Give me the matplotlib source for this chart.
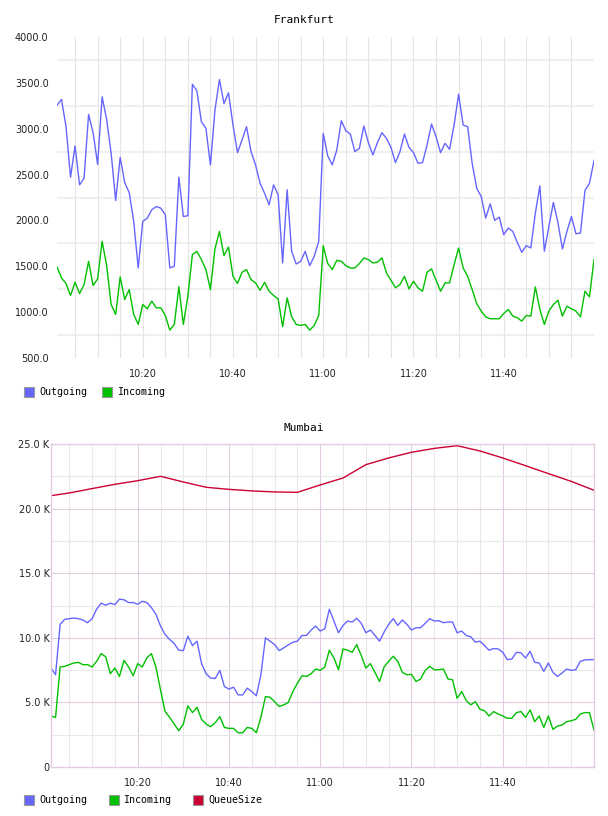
import numpy as np
import matplotlib
matplotlib.use("Agg")
from matplotlib import pyplot as plt
from matplotlib.patches import Rectangle
from matplotlib.ticker import FuncFormatter, MultipleLocator, FixedLocator

# minutes after 10:00, one sample per minute (10:01 .. 12:00)
minutes = list(range(1, 121))

fra_outgoing = [3257, 3319, 3022, 2471, 2812, 2388, 2460, 3156, 2957, 2612,
                3348, 3101, 2732, 2217, 2688, 2413, 2304, 1989, 1482, 1989,
                2025, 2116, 2152, 2134, 2062, 1482, 1500, 2471, 2043, 2051,
                3485, 3413, 3076, 3004, 2605, 3203, 3536, 3275, 3391, 3040,
                2739, 2877, 3022, 2750, 2605, 2406, 2297, 2170, 2388, 2279,
                1536, 2333, 1663, 1525, 1554, 1663, 1507, 1609, 1772, 2949,
                2703, 2605, 2768, 3087, 2978, 2942, 2750, 2786, 3029, 2848,
                2714, 2848, 2957, 2895, 2797, 2630, 2750, 2942, 2797, 2739,
                2623, 2630, 2822, 3051, 2913, 2739, 2841, 2775, 3040, 3377,
                3040, 3022, 2623, 2351, 2261, 2025, 2181, 2000, 2036, 1844,
                1917, 1880, 1761, 1652, 1725, 1700, 2080, 2377, 1663, 1935,
                2196, 1978, 1689, 1880, 2043, 1855, 1862, 2326, 2406, 2652]

fra_incoming = [1493, 1373, 1312, 1181, 1326, 1203, 1301, 1554, 1290, 1362,
                1772, 1507, 1083, 975, 1384, 1138, 1246, 975, 866, 1083,
                1036, 1120, 1047, 1047, 964, 804, 866, 1276, 866, 1174,
                1627, 1663, 1573, 1464, 1246, 1689, 1880, 1616, 1710, 1391,
                1312, 1435, 1464, 1355, 1319, 1239, 1326, 1228, 1181, 1145,
                841, 1156, 949, 866, 855, 866, 804, 855, 964, 1725,
                1529, 1464, 1565, 1554, 1507, 1482, 1482, 1529, 1591, 1573,
                1536, 1544, 1591, 1428, 1348, 1265, 1301, 1391, 1254, 1337,
                1265, 1228, 1435, 1471, 1348, 1228, 1319, 1319, 1518, 1699,
                1482, 1391, 1246, 1094, 1011, 949, 928, 928, 928, 986,
                1029, 957, 939, 902, 964, 957, 1275, 1029, 866, 1011,
                1083, 1130, 957, 1065, 1036, 1011, 949, 1228, 1167, 1573]

mum_outgoing = [7.66, 7.14, 11.04, 11.43, 11.48, 11.53, 11.48, 11.38, 11.17, 11.48,
                12.21, 12.68, 12.52, 12.68, 12.57, 12.99, 12.94, 12.73, 12.73, 12.60,
                12.83, 12.73, 12.34, 11.82, 10.91, 10.26, 9.87, 9.56, 9.04, 9.01,
                10.13, 9.40, 9.74, 8.00, 7.22, 6.88, 6.86, 7.48, 6.23, 6.03,
                6.18, 5.58, 5.58, 6.10, 5.84, 5.51, 7.14, 10.00, 9.74, 9.48,
                9.01, 9.22, 9.45, 9.66, 9.74, 10.18, 10.18, 10.60, 10.91, 10.52,
                10.70, 12.21, 11.30, 10.39, 10.96, 11.30, 11.22, 11.51, 11.12, 10.39,
                10.60, 10.18, 9.74, 10.44, 11.04, 11.48, 10.96, 11.38, 11.04, 10.60,
                10.78, 10.78, 11.12, 11.48, 11.30, 11.32, 11.17, 11.22, 11.22, 10.39,
                10.52, 10.18, 10.08, 9.66, 9.74, 9.40, 9.04, 9.17, 9.14, 8.88,
                8.31, 8.36, 8.88, 8.83, 8.44, 8.96, 8.10, 8.05, 7.40, 8.05,
                7.32, 7.01, 7.27, 7.58, 7.48, 7.53, 8.18, 8.29, 8.31, 8.31]

mum_incoming = [3.95, 3.84, 7.74, 7.79, 7.92, 8.05, 8.10, 7.92, 7.92, 7.74,
                8.18, 8.78, 8.52, 7.22, 7.66, 7.01, 8.26, 7.74, 7.06, 8.00,
                7.74, 8.44, 8.78, 7.74, 5.97, 4.29, 3.84, 3.32, 2.81, 3.32,
                4.73, 4.21, 4.62, 3.69, 3.32, 3.12, 3.43, 3.90, 3.06, 2.99,
                2.99, 2.65, 2.65, 3.06, 2.99, 2.65, 3.84, 5.45, 5.40, 5.06,
                4.68, 4.81, 4.99, 5.84, 6.49, 7.06, 7.01, 7.22, 7.58, 7.48,
                7.74, 9.04, 8.44, 7.53, 9.14, 9.04, 8.88, 9.48, 8.62, 7.66,
                8.00, 7.32, 6.62, 7.74, 8.18, 8.57, 8.18, 7.32, 7.14, 7.17,
                6.62, 6.81, 7.48, 7.79, 7.53, 7.53, 7.58, 6.81, 6.75, 5.32,
                5.84, 5.14, 4.81, 5.06, 4.47, 4.36, 3.95, 4.29, 4.10, 3.95,
                3.77, 3.77, 4.21, 4.29, 3.84, 4.42, 3.51, 3.95, 3.06, 3.95,
                2.91, 3.17, 3.25, 3.51, 3.58, 3.69, 4.10, 4.21, 4.21, 2.86]

# queue size read at the 5 minute marks
queue_minutes = [1, 5, 10, 15, 20, 25, 30, 35, 40, 45, 50, 55, 60,
                 65, 70, 75, 80, 85, 90, 95, 100, 105, 110, 115, 120]
mum_queue = [21.00, 21.21, 21.55, 21.88, 22.16, 22.50, 22.06, 21.65, 21.49, 21.37,
             21.29, 21.26, 21.83, 22.37, 23.40, 23.92, 24.36, 24.66, 24.87, 24.46,
             23.92, 23.32, 22.71, 22.11, 21.42]

time_ticks = [20, 40, 60, 80, 100]
grid_minutes = list(range(5, 120, 5))

BLUE = '#6666ff'
GREEN = '#00c000'
RED = '#cc0033'
MAJOR = '#e2cce2'
MINOR = '#e8e8e8'

W, H = 608, 816
fig = plt.figure(figsize=(W / 100, H / 100), dpi=100)


def box(l, t, r, b):
    # pixel box -> figure rect
    return [l / W, 1 - b / H, (r - l) / W, (b - t) / H]


def time_label(m, pos):
    m = int(round(m))
    return "%d:%02d" % (10 + m // 60, m % 60)


def setup_xaxis(ax):
    ax.set_xlim(1, 120)
    ax.xaxis.set_major_locator(FixedLocator(time_ticks))
    ax.xaxis.set_minor_locator(FixedLocator(grid_minutes))
    ax.xaxis.set_major_formatter(FuncFormatter(time_label))
    ax.tick_params(which='both', length=0)
    ax.tick_params(axis='x', pad=8, labelsize=7, labelcolor='#222222')
    ax.tick_params(axis='y', pad=6, labelsize=7, labelcolor='#222222')


def legend(items, y, step):
    for i, (name, col) in enumerate(items):
        x0 = 24 + i * step
        fig.add_artist(Rectangle((x0 / W, 1 - (y + 5) / H), 10 / W, 10 / H,
                                 facecolor=col, edgecolor='#999999', lw=0.8,
                                 transform=fig.transFigure))
        fig.text((x0 + 15) / W, 1 - y / H, name, family='DejaVu Sans Mono',
                 fontsize=7.2, va='center', ha='left')


# Frankfurt
ax1 = fig.add_axes(box(57, 37, 594, 358))
ax1.plot(minutes, fra_outgoing, color=BLUE, lw=1.0)
ax1.plot(minutes, fra_incoming, color=GREEN, lw=1.0)
ax1.set_ylim(500, 4000)
ax1.yaxis.set_major_locator(MultipleLocator(500))
ax1.yaxis.set_major_formatter(FuncFormatter(lambda v, p: "%.1f" % v))
setup_xaxis(ax1)
for s in ax1.spines.values():
    s.set_visible(False)
ax1.xaxis.grid(True, which='both', color='#e4e4e4', lw=0.8)
for v in np.arange(750, 4000, 500):
    ax1.axhline(v, color='#f0f0f0', lw=1.6, zorder=0)
ax1.set_axisbelow(True)
fig.text(0.5, 1 - 20 / H, "Frankfurt", ha='center', va='center',
         family='DejaVu Sans Mono', fontsize=8)
legend([("Outgoing", BLUE), ("Incoming", GREEN)], 392, 78)

# Mumbai
ax2 = fig.add_axes(box(51, 444, 594, 767))
ax2.plot(minutes, np.array(mum_outgoing) * 1000, color=BLUE, lw=1.0)
ax2.plot(minutes, np.array(mum_incoming) * 1000, color=GREEN, lw=1.0)
ax2.plot(queue_minutes, np.array(mum_queue) * 1000, color=RED, lw=1.0)
ax2.set_ylim(0, 25000)
ax2.yaxis.set_major_locator(MultipleLocator(5000))
ax2.yaxis.set_minor_locator(MultipleLocator(2500))
ax2.yaxis.set_major_formatter(
    FuncFormatter(lambda v, p: "0" if v == 0 else "%.1f K" % (v / 1000)))
setup_xaxis(ax2)
ax2.tick_params(axis='y', pad=1)
ax2.grid(True, which='minor', color=MINOR, lw=0.8)
ax2.grid(True, which='major', color=MAJOR, lw=0.8)
ax2.set_axisbelow(True)
for s in ax2.spines.values():
    s.set_color(MAJOR)
    s.set_linewidth(1.0)
fig.text(0.5, 1 - 428 / H, "Mumbai", ha='center', va='center',
         family='DejaVu Sans Mono', fontsize=8)
legend([("Outgoing", BLUE), ("Incoming", GREEN), ("QueueSize", RED)], 800, 84.5)

fig.savefig("out.png", dpi=100, facecolor='white')
